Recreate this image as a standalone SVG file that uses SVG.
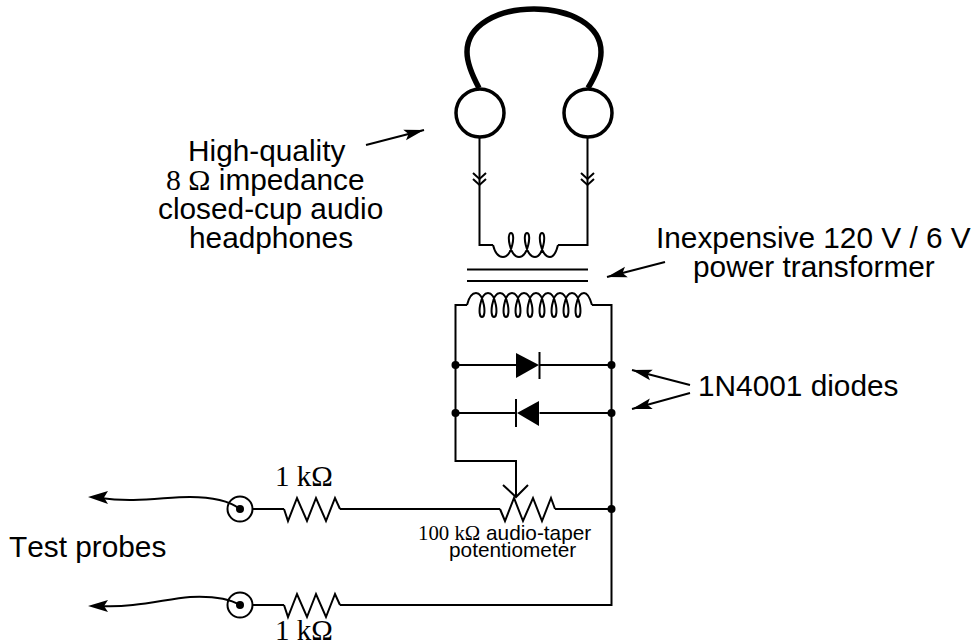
<svg xmlns="http://www.w3.org/2000/svg" width="974" height="643" viewBox="0 0 974 643">
<style>
text{font-kerning:none}
.w{fill:none;stroke:#000;stroke-width:2;stroke-linejoin:miter}
.d{fill:#000;stroke:none}
.a{font-family:"Liberation Sans",Arial,sans-serif;font-size:29.8px;fill:#000}
.t{font-family:"Liberation Serif","Times New Roman",serif}
.s{font-family:"Liberation Sans",Arial,sans-serif;font-size:20.8px;fill:#000}
.c{font-family:"Liberation Serif","Times New Roman",serif;font-size:29px;fill:#000}
</style>
<defs>
<marker id="ah" markerUnits="userSpaceOnUse" markerWidth="22" markerHeight="16" refX="20" refY="8" orient="auto"><path d="M0,2.500 L20,8 L0,13.500 L4,8 Z" fill="#000"/></marker>
</defs>
<g id="connectors">
<path class="w" d="M479.500,136 V245 H493"/>
<path class="w" d="M587.500,136 V245 H558"/>
<path class="w" d="M473,173 L479.500,179 L486,173 M473,179 L479.500,185 L486,179"/>
<path class="w" d="M581,173 L587.500,179 L594,173 M581,179 L587.500,185 L594,179"/>
<path class="w" d="M467,305 H455.500 V461 H516 V497"/>
<path class="w" d="M592,305 H611.500 V605 H340"/>
<path class="w" d="M455.500,365 H516 M539.500,365 H611.500"/>
<path class="w" d="M455.500,413 H516 M539.500,413 H611.500"/>
<path class="w" d="M252,509 H284 M340,509 H500 M555,509 H611.500"/>
<path class="w" d="M252,605 H284"/>
<path class="w" d="M240,509 C228,500 212,497 190,497 C165,497 135,503 100,498"/>
<path class="w" d="M240,605 C228,598 210,596 190,597 C165,599 135,608 100,606"/>
<path class="d" d="M88,497 L108,491 L104,497.500 L108,504 Z"/>
<path class="d" d="M88,606 L108,600 L104,606 L108,612 Z"/>
<path class="w" marker-end="url(#ah)" d="M366,145 L424,130"/>
<path class="w" marker-end="url(#ah)" d="M665,262 L607,277"/>
<path class="w" marker-end="url(#ah)" d="M690,385 L632,370"/>
<path class="w" marker-end="url(#ah)" d="M690,393 L632,409"/>
</g>
<g id="headphones">
<path d="M479,88 C472,75 467,62 467,52 C467,25 498,9 534,9 C570,9 601,25 601,52 C601,62 596,75 588,88" fill="none" stroke="#000" stroke-width="5.500"/>
<circle cx="480" cy="113" r="24" fill="#fff" stroke="#000" stroke-width="3.500"/>
<circle cx="588" cy="113" r="24" fill="#fff" stroke="#000" stroke-width="3.500"/>
</g>
<g id="secondary-coil">
<path class="w" d="M493,245 C495,253 498,257 503,257 C512,257 516,233 511,233 C506,233 510,257 519,257 C528,257 532,233 527,233 C522,233 526,257 535,257 C543,257 547,233 542,233 C537,233 541,257 550,257 C553,257 556,253 558,245"/>
</g>
<g id="transformer-core">
<path class="w" d="M467,269.500 H588 M467,281 H588"/>
</g>
<g id="primary-coil">
<path class="w" d="M467,305 C469,297 472,293 476,293 C484,293 487,317 482,317 C477,317 480,293 488,293 C496,293 499,317 494,317 C489,317 492,293 500,293 C508,293 511,317 506,317 C501,317 504,293 512,293 C520,293 523,317 518,317 C513,317 516,293 524,293 C532,293 535,317 530,317 C525,317 528,293 536,293 C544,293 547,317 542,317 C537,317 540,293 548,293 C556,293 559,317 554,317 C549,317 552,293 560,293 C568,293 571,317 566,317 C561,317 564,293 572,293 C580,293 583,317 578,317 C573,317 576,293 584,293 C588,293 590,298 592,305"/>
</g>
<g id="diode-1">
<path class="d" d="M516,353 L516,378 L539,365 Z"/>
<path class="w" d="M539.500,352 V379"/>
</g>
<g id="diode-2">
<path class="d" d="M539,401 L539,426 L517,413 Z"/>
<path class="w" d="M516,399 V427"/>
</g>
<g id="junctions">
<circle class="d" cx="455.500" cy="365" r="4"/><circle class="d" cx="611.500" cy="365" r="4"/>
<circle class="d" cx="455.500" cy="413" r="4"/><circle class="d" cx="611.500" cy="413" r="4"/>
<circle class="d" cx="611.500" cy="509" r="4"/>
</g>
<g id="potentiometer">
<path class="w" d="M500,509 L505,521 L514,498 L523,521 L533,498 L542,521 L551,498 L555,509"/>
<path class="w" d="M503,485 L516,497 L528,485"/>
</g>
<g id="r1"><path class="w" d="M284,509 L288,521 L297,498 L307,521 L316,498 L326,521 L335,498 L340,509"/></g>
<g id="r2"><path class="w" d="M284,605 L288,617 L297,594 L307,617 L316,594 L326,617 L335,594 L340,605"/></g>
<g id="terminal-1"><circle cx="240" cy="509" r="12.500" fill="none" stroke="#000" stroke-width="2"/><circle class="d" cx="240" cy="509" r="4"/></g>
<g id="terminal-2"><circle cx="240" cy="605" r="12.500" fill="none" stroke="#000" stroke-width="2"/><circle class="d" cx="240" cy="605" r="4"/></g>
<g id="labels">
<text class="a" x="188" y="161">High-quality</text>
<text class="a" x="166" y="190"><tspan class="t">8 Ω</tspan> impedance</text>
<text class="a" x="158" y="219">closed-cup audio</text>
<text class="a" x="189" y="248">headphones</text>
<text class="a" x="656" y="248">Inexpensive 120 V / 6 V</text>
<text class="a" x="693" y="277">power transformer</text>
<text class="a" x="698" y="396">1N4001 diodes</text>
<text class="a" x="9" y="557">Test probes</text>
<text class="c" x="275" y="486">1 kΩ</text>
<text class="c" x="275" y="640">1 kΩ</text>
<text class="s" x="418" y="540"><tspan class="t">100 kΩ</tspan> audio-taper</text>
<text class="s" x="449" y="557">potentiometer</text>
</g>
</svg>
